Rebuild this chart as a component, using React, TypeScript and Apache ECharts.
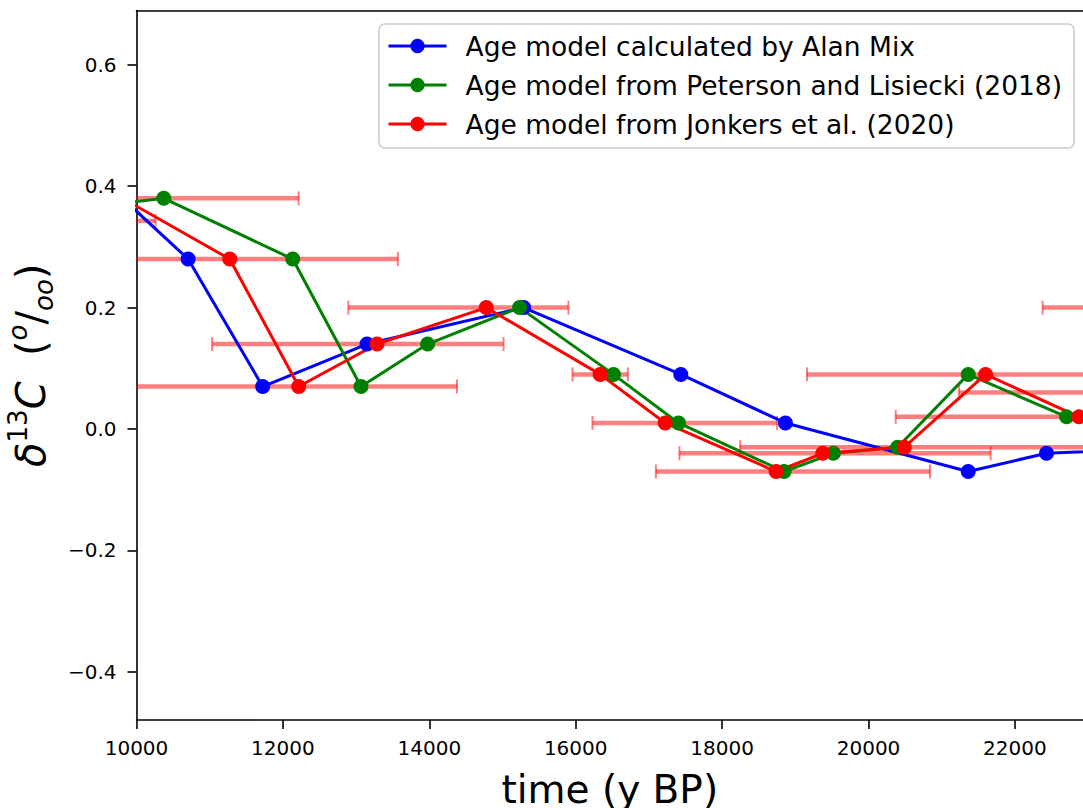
import React, { useEffect, useRef } from "react";
import * as echarts from "echarts";

// ---- data ----
const seriesNames = [
  "Age model calculated by Alan Mix",
  "Age model from Peterson and Lisiecki (2018)",
  "Age model from Jonkers et al. (2020)",
];

const mixAge = [9810, 10705, 11724, 13149, 15288, 17436, 18865, 21362, 22432, 24400];
const mixD13C = [0.38, 0.28, 0.07, 0.14, 0.2, 0.09, 0.01, -0.07, -0.04, -0.03];

const plAge = [7830, 10373, 12134, 13067, 13977, 15233, 16516, 17404, 18846, 19520, 20398, 21362, 22706];
const plD13C = [0.343, 0.38, 0.28, 0.07, 0.14, 0.2, 0.09, 0.01, -0.07, -0.04, -0.03, 0.09, 0.02];

const jkAge = [9810, 11274, 12216, 13286, 14778, 16334, 17222, 18737, 19375, 20489, 21599, 22874, 23800];
const jkD13C = [0.38, 0.28, 0.07, 0.14, 0.2, 0.09, 0.01, -0.07, -0.04, -0.03, 0.09, 0.02, 0.06];

// horizontal age-uncertainty bars (Jonkers et al.)
const errD13C = [0.38, 0.343, 0.28, 0.2, 0.14, 0.07, 0.09, 0.01, -0.07, -0.04, -0.03, 0.09, 0.02, 0.06, 0.2];
const errLow = [7405, 7000, 8000, 12894, 11033, 9000, 15956, 16229, 17095, 17417, 18246, 19160, 20371, 21235, 22378];
const errHigh = [12215, 10260, 13571, 15901, 15014, 14378, 16713, 18751, 20840, 21668, 24000, 24050, 25400, 26000, 26500];

const xTicks = [10000, 12000, 14000, 16000, 18000, 20000, 22000];
const yTicks = [-0.4, -0.2, 0, 0.2, 0.4, 0.6];

const colors = ["#0000ff", "#008000", "#ff0000"];

export default function App() {
  const ref = useRef<HTMLDivElement>(null);

  useEffect(() => {
    const chart = echarts.init(ref.current!, null, { renderer: "svg" });
    const font = "DejaVu Sans";
    const black = "#000000";

    const mk = (xs: number[], ys: number[]) => xs.map((x, i) => [x, ys[i]]);
    const errData = errD13C.map((y, i) => [errLow[i], errHigh[i], y]);

    const lineSeries = [mk(mixAge, mixD13C), mk(plAge, plD13C), mk(jkAge, jkD13C)].map((data, i) => ({
      type: "line",
      name: seriesNames[i],
      data,
      color: colors[i],
      symbol: "circle",
      symbolSize: 15,
      showSymbol: true,
      lineStyle: { width: 3, color: colors[i] },
      itemStyle: { color: colors[i] },
      z: 3,
      clip: true,
    }));

    chart.setOption({
      animation: false,
      textStyle: { fontFamily: font },
      grid: {
        left: 136.5,
        right: 0,
        top: 10.5,
        bottom: 88,
        containLabel: false,
        outerBoundsMode: "none",
      },
      legend: {
        orient: "vertical",
        left: 379,
        top: 24,
        padding: [7, 12, 9, 8],
        itemWidth: 58,
        itemHeight: 18,
        itemGap: 9,
        backgroundColor: "rgba(255,255,255,0.8)",
        borderColor: "#cccccc",
        borderWidth: 1.6,
        borderRadius: 6,
        lineStyle: { width: 3 },
        textStyle: { fontSize: 26.5, color: black, fontFamily: font, lineHeight: 30, padding: [0, 0, 0, 14] },
        data: seriesNames,
      },
      xAxis: [
        {
          type: "value",
          min: 10000,
          max: 22930,
          axisLine: { show: true, onZero: false, lineStyle: { color: black, width: 1.6 } },
          axisTick: { show: true, length: 9, customValues: xTicks, lineStyle: { color: black, width: 1.6 } },
          axisLabel: {
            customValues: xTicks,
            fontSize: 20,
            color: black,
            margin: 18,
            fontFamily: font,
            formatter: (v: number) => String(v),
          },
          splitLine: { show: false },
          name: "time (y BP)",
          nameLocation: "middle",
          nameGap: 50,
          nameTextStyle: { fontSize: 39, color: black, fontFamily: font },
        },
        {
          type: "value",
          position: "top",
          min: 10000,
          max: 22930,
          axisLine: { show: true, onZero: false, lineStyle: { color: black, width: 1.6 } },
          axisTick: { show: false },
          axisLabel: { show: false },
          splitLine: { show: false },
        },
      ],
      yAxis: {
        type: "value",
        min: -0.4794,
        max: 0.6895,
        axisLine: { show: true, onZero: false, lineStyle: { color: black, width: 1.6 } },
        axisTick: { show: true, length: 9, customValues: yTicks, lineStyle: { color: black, width: 1.6 } },
        axisLabel: {
          customValues: yTicks,
          fontSize: 20,
          color: black,
          margin: 20,
          fontFamily: font,
          formatter: (v: number) => v.toFixed(1).replace("-", "\u2212"),
        },
        splitLine: { show: false },
        name: "{d|δ}{s|13}{d|C}{n|  (}{so|o}{n|/}{sb|oo}{n|)}",
        nameLocation: "middle",
        nameRotate: 90,
        nameGap: 78,
        nameTextStyle: {
          fontFamily: font,
          fontSize: 40,
          color: black,
          lineHeight: 52,
          rich: {
            d: { fontFamily: font, fontSize: 40, fontStyle: "italic", lineHeight: 52, color: black },
            n: { fontFamily: font, fontSize: 40, lineHeight: 52, color: black },
            s: { fontFamily: font, fontSize: 26, lineHeight: 30, verticalAlign: "top", color: black },
            so: { fontFamily: font, fontSize: 26, fontStyle: "italic", lineHeight: 20, verticalAlign: "top", color: black },
            sb: { fontFamily: font, fontSize: 26, fontStyle: "italic", lineHeight: 34, verticalAlign: "bottom", color: black },
          },
        },
      },
      series: [
        {
          type: "custom",
          name: "age uncertainty",
          data: errData,
          encode: { x: [0, 1], y: 2 },
          z: 1,
          renderItem: (params: any, api: any) => {
            const lo = api.value(0);
            const hi = api.value(1);
            const y = api.value(2);
            const p1 = api.coord([lo, y]);
            const p2 = api.coord([hi, y]);
            const cs = params.coordSys;
            const xmin = cs.x;
            const xmax = cs.x + cs.width;
            const x1 = Math.max(p1[0], xmin);
            const x2 = Math.min(p2[0], xmax);
            const barStyle = { stroke: "rgba(255,0,0,0.5)", lineWidth: 4.5, fill: null };
            const capStyle = { stroke: "rgba(255,0,0,0.5)", lineWidth: 2, fill: null };
            const children: any[] = [];
            if (x2 > x1) {
              children.push({ type: "line", shape: { x1, y1: p1[1], x2, y2: p1[1] }, style: barStyle });
            }
            if (p1[0] >= xmin && p1[0] <= xmax) {
              children.push({ type: "line", shape: { x1: p1[0], y1: p1[1] - 7, x2: p1[0], y2: p1[1] + 7 }, style: capStyle });
            }
            if (p2[0] >= xmin && p2[0] <= xmax) {
              children.push({ type: "line", shape: { x1: p2[0], y1: p2[1] - 7, x2: p2[0], y2: p2[1] + 7 }, style: capStyle });
            }
            return { type: "group", children };
          },
        },
        ...lineSeries,
      ],
    });

    return () => {
      chart.dispose();
    };
  }, []);

  return (
    <div
      ref={ref}
      style={{ position: "fixed", left: 0, top: 0, width: 1083, height: 808, background: "#ffffff" }}
    />
  );
}
